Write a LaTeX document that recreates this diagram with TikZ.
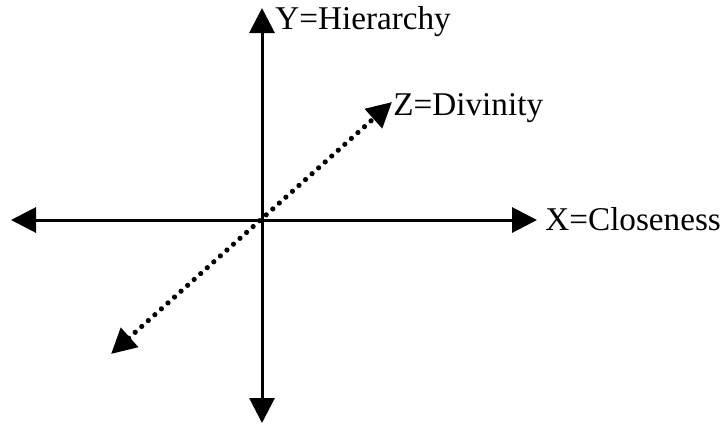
\documentclass[tikz,border=0pt]{standalone}
\usepackage{fontspec}
\setmainfont{Liberation Serif}
\usetikzlibrary{positioning,arrows.meta}

\begin{document}
\begin{tikzpicture}[x=0.5pt,y=-0.5pt,>={Triangle[length=12.5pt,width=12.5pt]},
  axis/.style={line width=1.5pt,<->},
  zaxis/.style={line width=2.6pt,line cap=round,dash pattern=on 0pt off 4.4pt,<->},
  lab/.style={font=\fontsize{16.6}{18}\selectfont,inner sep=0pt,anchor=west}]
\useasboundingbox (0,0) rectangle (727,425);
% axes
\coordinate (o) at (263,220);
\coordinate (ytop) at (262,8);
\coordinate (ybot) at (262,423);
\coordinate (xleft) at (11,220);
\coordinate (xright) at (537,220);
\coordinate (zlow) at (111,354);
\coordinate (zup) at (392,102);
\draw[axis] (ybot) -- (ytop);
\draw[axis] (xleft) -- (xright);
\draw[zaxis] (zlow) -- (zup);
% labels
\node[lab] (ylab) at (275,22) {Y=Hierarchy};
\node[lab] (zlab) at (393,108) {Z=Divinity};
\node[lab] (xlab) at (545,219) {X=Closeness};
\end{tikzpicture}
\end{document}
